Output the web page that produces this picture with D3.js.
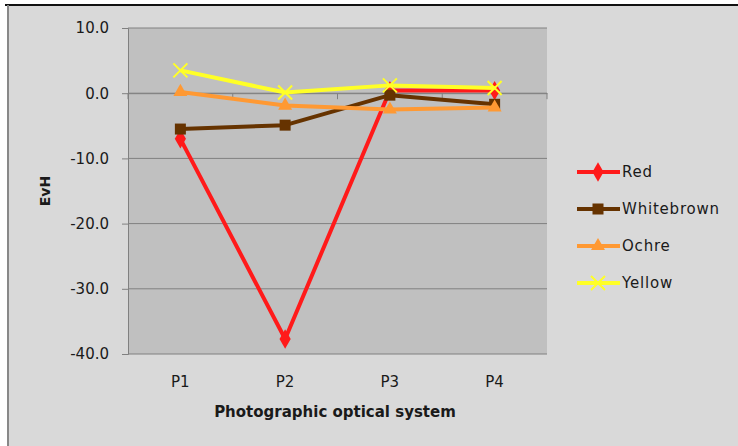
<!DOCTYPE html>
<html><head><meta charset="utf-8">
<script src="https://cdn.jsdelivr.net/npm/d3@7"></script>
<style>body{margin:0;background:#fff}svg{display:block}text{font-family:"DejaVu Sans",Verdana,sans-serif}</style>
</head><body><svg id="c" width="738" height="446"></svg>
<script>
const categories = ["P1","P2","P3","P4"];
const seriesNames = ["Red","Whitebrown","Ochre","Yellow"];
const red = [-7.0, -37.7, 0.4, 0.4];
const whitebrown = [-5.5, -4.9, -0.3, -1.7];
const ochre = [0.2, -1.9, -2.5, -2.2];
const yellow = [3.5, 0.1, 1.2, 0.8];
const yTicks = [10, 0, -10, -20, -30, -40];
const colors = ["#ff1a1a","#663300","#ff9933","#ffff26"];
const markers = ["diamond","square","triangle","x"];
const values = [red, whitebrown, ochre, yellow];

const svg = d3.select("#c");
svg.append("rect").attr("x",8).attr("y",5).attr("width",730).attr("height",441).attr("fill","#d9d9d9");
svg.append("line").attr("x1",5).attr("x2",738).attr("y1",5).attr("y2",5).attr("stroke","#111").attr("stroke-width",2);
svg.append("line").attr("x1",8).attr("x2",8).attr("y1",5).attr("y2",446).attr("stroke","#888").attr("stroke-width",2);

const L=128,R=547,T=28,B=354;
const x = d3.scaleBand().domain(categories).range([L,R]);
const y = d3.scaleLinear().domain([-40,10]).range([B,T]);

svg.append("rect").attr("x",L).attr("y",T).attr("width",R-L).attr("height",B-T).attr("fill","#c0c0c0");
svg.append("g").selectAll("line").data(yTicks).join("line")
  .attr("x1",L).attr("x2",R).attr("y1",d=>y(d)).attr("y2",d=>y(d)).attr("stroke","#808080").attr("stroke-width",1);

const fmt = d => d.toFixed(1);
const yAxis = svg.append("g").attr("transform",`translate(${L},0)`)
  .call(d3.axisLeft(y).tickValues(yTicks).tickFormat(fmt).tickSize(6).tickPadding(13));
yAxis.select(".domain").attr("stroke","#808080");
yAxis.selectAll(".tick line").attr("stroke","#808080");
yAxis.selectAll("text").attr("font-size",15).attr("fill","#1a1a1a").style("font-family","DejaVu Sans");

const xAxis = svg.append("g").attr("transform",`translate(0,${y(0)})`)
  .call(d3.axisBottom(x).tickSize(0).tickFormat(""));
xAxis.select(".domain").attr("stroke","#808080");
svg.append("g").selectAll("line").data(categories).join("line")
  .attr("x1",d=>x(d)+x.bandwidth()).attr("x2",d=>x(d)+x.bandwidth())
  .attr("y1",y(0)).attr("y2",y(0)+6).attr("stroke","#808080");
svg.append("line").attr("x1",L).attr("x2",L).attr("y1",y(0)).attr("y2",y(0)+6).attr("stroke","#808080");

svg.append("g").selectAll("text").data(categories).join("text")
  .attr("x",d=>x(d)+x.bandwidth()/2).attr("y",387).attr("text-anchor","middle")
  .attr("font-size",15).attr("fill","#1a1a1a").text(d=>d);

svg.append("text").attr("x",335).attr("y",417).attr("text-anchor","middle")
  .attr("font-size",15).attr("font-weight","bold").attr("fill","#1a1a1a").text("Photographic optical system");
svg.append("text").attr("transform","translate(50,191) rotate(-90)").attr("text-anchor","middle")
  .attr("font-size",14).attr("font-weight","bold").attr("fill","#1a1a1a").text("EvH");

function marker(g, type, color, size){
  if(type==="diamond") g.append("path").attr("d",d3.symbol(d3.symbolDiamond, size*size*0.9)()).attr("fill",color);
  else if(type==="square") g.append("rect").attr("x",-size/2).attr("y",-size/2).attr("width",size).attr("height",size).attr("fill",color);
  else if(type==="triangle") g.append("path").attr("d",d3.symbol(d3.symbolTriangle, size*size*0.7)()).attr("fill",color);
  else { const s=size/2; g.append("path").attr("d",`M${-s},${-s}L${s},${s}M${-s},${s}L${s},${-s}`).attr("stroke",color).attr("stroke-width",2); }
}

const line = d3.line().x((d,i)=>x(categories[i])+x.bandwidth()/2).y(d=>y(d));
values.forEach((vals,k)=>{
  const g = svg.append("g");
  g.append("path").attr("d",line(vals)).attr("fill","none").attr("stroke",colors[k]).attr("stroke-width",4).attr("stroke-linejoin","round");
  vals.forEach((v,i)=>{
    const m = g.append("g").attr("transform",`translate(${x(categories[i])+x.bandwidth()/2},${y(v)})`);
    marker(m, markers[k], colors[k], k===3?14:11);
  });
});

const legY = [172,209,246,283];
seriesNames.forEach((n,k)=>{
  const g = svg.append("g").attr("transform",`translate(0,${legY[k]})`);
  g.append("line").attr("x1",577).attr("x2",620).attr("y1",0).attr("y2",0).attr("stroke",colors[k]).attr("stroke-width",4);
  const m = g.append("g").attr("transform","translate(598,0)");
  marker(m, markers[k], colors[k], k===3?14:11);
  g.append("text").attr("x",622).attr("y",5).attr("font-size",15).attr("letter-spacing",0.8).attr("fill","#1a1a1a").text(n);
});
</script></body></html>
